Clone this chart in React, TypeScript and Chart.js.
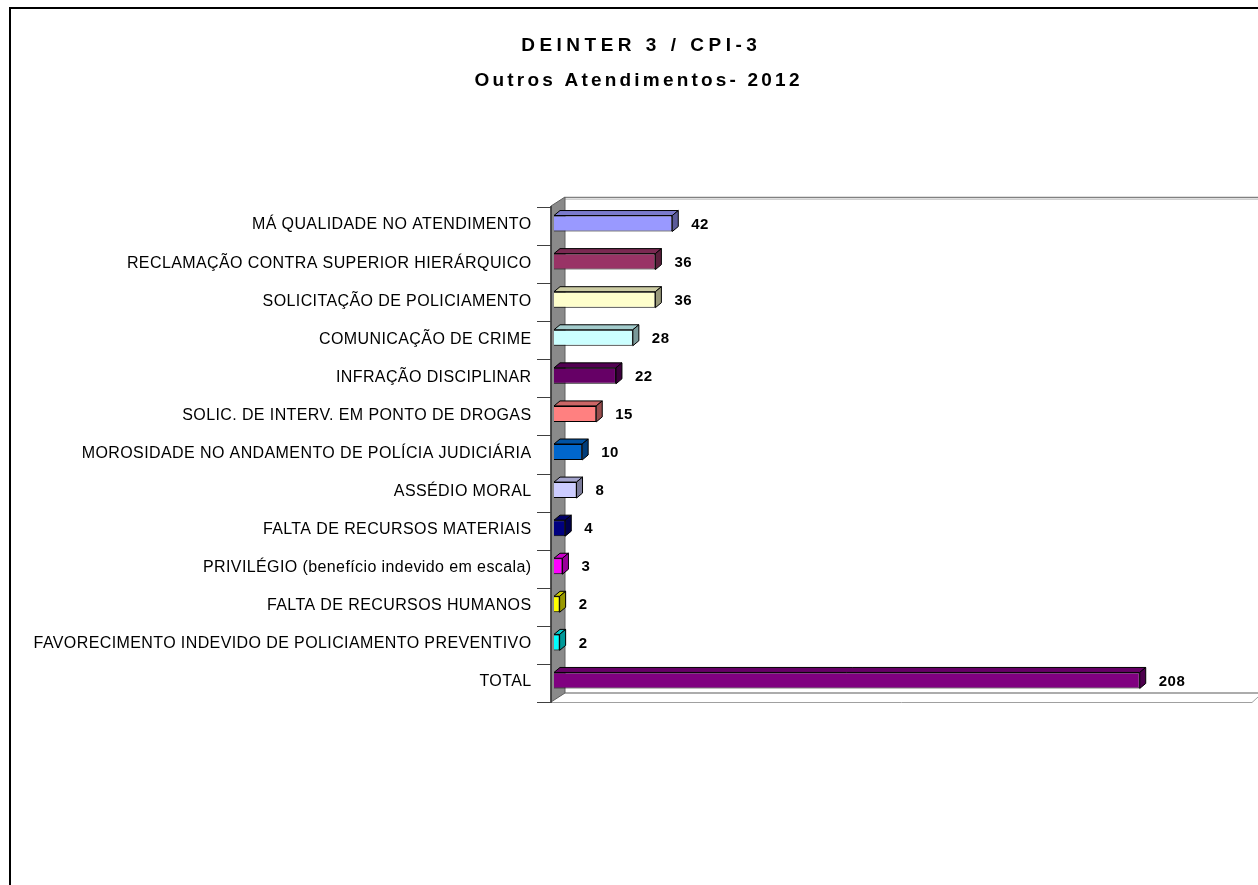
import React, { useEffect, useRef } from 'react';
import { Chart, registerables } from 'chart.js';

Chart.register(...registerables);

const titleLines = ['DEINTER 3 / CPI-3', 'Outros Atendimentos- 2012'];

const categories = [
  'MÁ QUALIDADE NO ATENDIMENTO',
  'RECLAMAÇÃO CONTRA SUPERIOR HIERÁRQUICO',
  'SOLICITAÇÃO DE POLICIAMENTO',
  'COMUNICAÇÃO DE CRIME',
  'INFRAÇÃO DISCIPLINAR',
  'SOLIC. DE INTERV. EM PONTO DE DROGAS',
  'MOROSIDADE NO ANDAMENTO DE POLÍCIA JUDICIÁRIA',
  'ASSÉDIO MORAL',
  'FALTA DE RECURSOS MATERIAIS',
  'PRIVILÉGIO (benefício indevido em escala)',
  'FALTA DE RECURSOS HUMANOS',
  'FAVORECIMENTO INDEVIDO DE POLICIAMENTO PREVENTIVO',
  'TOTAL',
];

const values = [42, 36, 36, 28, 22, 15, 10, 8, 4, 3, 2, 2, 208];

const barColors = [
  '#9999FF', '#993366', '#FFFFCC', '#CCFFFF', '#660066', '#FF8080',
  '#0066CC', '#CCCCFF', '#000080', '#FF00FF', '#FFFF00', '#00FFFF', '#800080',
];

const xMin = 0;
const xMax = 250;

function shade(hex: string, f: number): string {
  const n = parseInt(hex.slice(1), 16);
  const r = Math.round(((n >> 16) & 255) * f);
  const g = Math.round(((n >> 8) & 255) * f);
  const b = Math.round((n & 255) * f);
  return `rgb(${r},${g},${b})`;
}

function drawSpaced(ctx: CanvasRenderingContext2D, text: string, cx: number, y: number, spacing: number) {
  const chars = Array.from(text);
  const widths = chars.map((c) => ctx.measureText(c).width);
  const total = widths.reduce((a, b) => a + b, 0) + spacing * (chars.length - 1);
  let x = cx - total / 2;
  ctx.textAlign = 'left';
  chars.forEach((c, i) => {
    ctx.fillText(c, x, y);
    x += widths[i] + spacing;
  });
}

const FONT = "Arial, 'Liberation Sans', sans-serif";

export default function App() {
  const ref = useRef<HTMLCanvasElement>(null);

  useEffect(() => {
    const canvas = ref.current;
    if (!canvas) return;
    const DX = 6, DY = 5; // bar depth offsets
    const WDX = 14, WDY = 9; // wall depth offsets
    const SHIFT = 2.5; // front plane below bar centres

    const plugin = {
      id: 'excel3d',
      beforeDraw(chart: any) {
        const ctx: CanvasRenderingContext2D = chart.ctx;
        const { left, right } = chart.chartArea;
        const ys = chart.scales.y;
        const n = categories.length;
        const frontTop = ys.getPixelForValue(-0.5) + SHIFT;
        const frontBottom = ys.getPixelForValue(n - 0.5) + SHIFT;
        const wx = left - 3;
        ctx.save();
        ctx.fillStyle = '#ffffff';
        ctx.fillRect(0, 0, chart.width, chart.height);
        // outer frame
        ctx.strokeStyle = '#000000';
        ctx.lineWidth = 2;
        ctx.strokeRect(10, 8, chart.width + 40, chart.height + 40);

        // back wall top edge
        ctx.lineWidth = 1.5;
        ctx.strokeStyle = '#808080';
        ctx.beginPath();
        ctx.moveTo(wx + WDX, frontTop - 1 - WDY + 0.5);
        ctx.lineTo(right + 10, frontTop - 1 - WDY + 0.5);
        ctx.stroke();
        ctx.lineWidth = 1;
        ctx.strokeStyle = '#d0d0d0';
        ctx.beginPath();
        ctx.moveTo(wx + WDX, frontTop - WDY + 1.5);
        ctx.lineTo(right + 10, frontTop - WDY + 1.5);
        ctx.stroke();

        // floor
        ctx.strokeStyle = '#909090';
        ctx.lineWidth = 1.5;
        ctx.beginPath();
        ctx.moveTo(wx + WDX, frontBottom - WDY);
        ctx.lineTo(right + 10, frontBottom - WDY);
        ctx.stroke();
        ctx.lineWidth = 1;
        ctx.strokeStyle = '#a0a0a0';
        ctx.beginPath();
        ctx.moveTo(wx, frontBottom + 0.5);
        ctx.lineTo(right - 6, frontBottom + 0.5);
        ctx.lineTo(right, frontBottom - 5);
        ctx.stroke();

        // left wall
        ctx.fillStyle = '#8a8a8a';
        ctx.beginPath();
        ctx.moveTo(wx, frontBottom);
        ctx.lineTo(wx, frontTop - 1);
        ctx.lineTo(wx + WDX, frontTop - 1 - WDY);
        ctx.lineTo(wx + WDX, frontBottom - WDY);
        ctx.closePath();
        ctx.fill();
        ctx.strokeStyle = '#606060';
        ctx.lineWidth = 1;
        ctx.stroke();
        ctx.strokeStyle = '#333333';
        ctx.lineWidth = 1.5;
        ctx.beginPath();
        ctx.moveTo(wx, frontBottom + 1);
        ctx.lineTo(wx, frontTop - 1);
        ctx.stroke();

        // category tick marks
        ctx.strokeStyle = '#404040';
        ctx.lineWidth = 1;
        for (let k = 0; k <= n; k++) {
          const y = Math.round(ys.getPixelForValue(k - 0.5) + SHIFT) + 0.5;
          ctx.beginPath();
          ctx.moveTo(wx - 14, y);
          ctx.lineTo(wx, y);
          ctx.stroke();
        }
        ctx.restore();
        (ctx as any).letterSpacing = '0.4px';
      },
      afterDatasetsDraw(chart: any) {
        const ctx: CanvasRenderingContext2D = chart.ctx;
        (ctx as any).letterSpacing = '0px';
        const meta = chart.getDatasetMeta(0);
        ctx.save();
        ctx.lineWidth = 1;
        ctx.strokeStyle = '#000000';
        meta.data.forEach((bar: any, i: number) => {
          const p = bar.getProps(['x', 'y', 'base', 'height'], true);
          const l = Math.min(p.base, p.x);
          const r = Math.max(p.base, p.x);
          const t = p.y - p.height / 2;
          const b = p.y + p.height / 2;
          const c = barColors[i];
          // top face
          ctx.fillStyle = shade(c, 0.8);
          ctx.beginPath();
          ctx.moveTo(l, t);
          ctx.lineTo(l + DX, t - DY);
          ctx.lineTo(r + DX, t - DY);
          ctx.lineTo(r, t);
          ctx.closePath();
          ctx.fill();
          ctx.stroke();
          // side face
          ctx.fillStyle = shade(c, 0.6);
          ctx.beginPath();
          ctx.moveTo(r, t);
          ctx.lineTo(r + DX, t - DY);
          ctx.lineTo(r + DX, b - DY);
          ctx.lineTo(r, b);
          ctx.closePath();
          ctx.fill();
          ctx.stroke();
        });
        // data labels
        ctx.fillStyle = '#000000';
        ctx.font = `bold 15px ${FONT}`;
        ctx.textAlign = 'left';
        ctx.textBaseline = 'middle';
        (ctx as any).letterSpacing = '0.5px';
        meta.data.forEach((bar: any, i: number) => {
          const p = bar.getProps(['x', 'y'], true);
          ctx.fillText(String(values[i]), p.x + 19, p.y + 1);
        });
        ctx.restore();
        (ctx as any).letterSpacing = '0px';
      },
      afterDraw(chart: any) {
        const ctx: CanvasRenderingContext2D = chart.ctx;
        (ctx as any).letterSpacing = '0px';
        ctx.save();
        ctx.fillStyle = '#000000';
        ctx.font = `bold 19px ${FONT}`;
        ctx.textBaseline = 'middle';
        drawSpaced(ctx, titleLines[0], 639, 46, 4.5);
        drawSpaced(ctx, titleLines[1], 637, 81, 3.2);
        ctx.restore();
      },
    };

    const chart = new Chart(canvas, {
      type: 'bar',
      data: {
        labels: categories,
        datasets: [
          {
            data: values,
            backgroundColor: barColors,
            borderColor: '#000000',
            borderWidth: 1,
            barPercentage: 0.42,
            categoryPercentage: 1,
          },
        ],
      },
      options: {
        indexAxis: 'y',
        responsive: false,
        animation: false,
        devicePixelRatio: 1,
        layout: { padding: { left: 0, right: 0, top: 204.5, bottom: 185.5 } },
        plugins: {
          legend: { display: false },
          title: { display: false },
          tooltip: { enabled: false },
        },
        scales: {
          x: {
            display: false,
            min: xMin,
            max: xMax,
          },
          y: {
            grid: { display: false, drawTicks: false },
            border: { display: false },
            ticks: {
              color: '#000000',
              font: { family: FONT, size: 16 },
              padding: 22.5,
              labelOffset: 1.5,
              autoSkip: false,
            },
            afterFit(scale: any) {
              scale.width = 554;
            },
          },
        },
      },
      plugins: [plugin],
    } as any);

    return () => chart.destroy();
  }, []);

  return (
    <canvas
      ref={ref}
      width={1258}
      height={885}
      style={{ position: 'absolute', left: 0, top: 0, width: 1258, height: 885 }}
    />
  );
}
